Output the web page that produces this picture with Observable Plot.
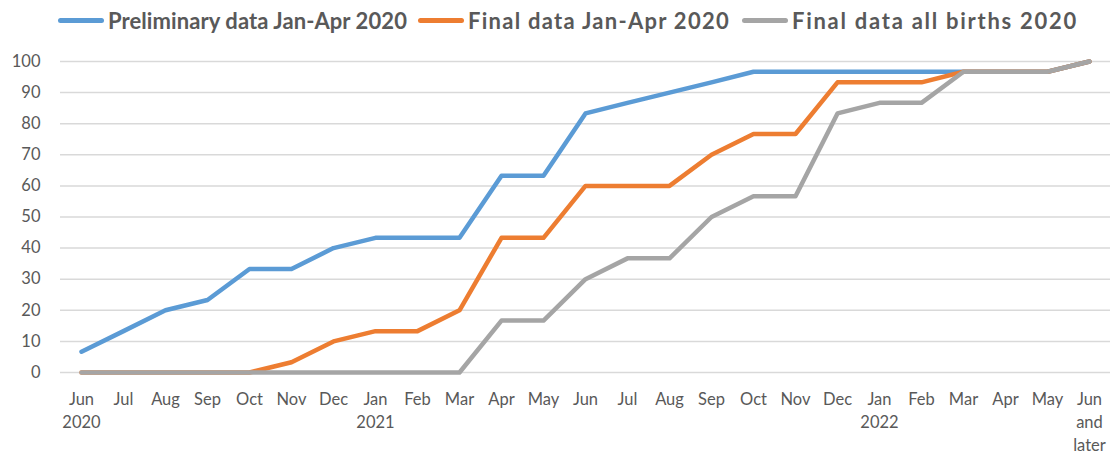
<!DOCTYPE html>
<html><head><meta charset="utf-8">
<script src="https://cdn.jsdelivr.net/npm/d3@7"></script>
<script src="https://cdn.jsdelivr.net/npm/@observablehq/plot@0.6"></script>
<style>
body{margin:0;background:#fff;font-family:Lato,"Open Sans",sans-serif;}
#legend{height:40px;position:relative;font-weight:bold;font-size:22px;color:#595959;}
.item{position:absolute;top:0;height:40px;display:flex;align-items:center;white-space:nowrap;}
.sw{width:46px;height:5px;border-radius:3px;margin-right:4px;}
</style></head>
<body>
<div id="legend"></div>
<div id="chart"></div>
<script>
const months = ["Jun 2020","Jul","Aug","Sep","Oct","Nov","Dec","Jan 2021","Feb","Mar","Apr","May","Jun","Jul ","Aug ","Sep ","Oct ","Nov ","Dec ","Jan 2022","Feb ","Mar ","Apr ","May ","Jun and later"];
const tickLabels = ["Jun\n2020","Jul","Aug","Sep","Oct","Nov","Dec","Jan\n2021","Feb","Mar","Apr","May","Jun","Jul","Aug","Sep","Oct","Nov","Dec","Jan\n2022","Feb","Mar","Apr","May","Jun\nand\nlater"];
const seriesNames = ["Preliminary data Jan-Apr 2020","Final data Jan-Apr 2020","Final data all births 2020"];
const seriesColors = ["#5b9bd5","#ed7d31","#a5a5a5"];
const preliminary = [6.7,13.3,20,23.3,33.3,33.3,40,43.3,43.3,43.3,63.3,63.3,83.3,86.7,90,93.3,96.7,96.7,96.7,96.7,96.7,96.7,96.7,96.7,100];
const finalJanApr = [0,0,0,0,0,3.3,10,13.3,13.3,20,43.3,43.3,60,60,60,70,76.7,76.7,93.3,93.3,93.3,96.7,96.7,96.7,100];
const finalAll = [0,0,0,0,0,0,0,0,0,0,16.7,16.7,30,36.7,36.7,50,56.7,56.7,83.3,86.7,86.7,96.7,96.7,96.7,100];
const yTicks = [0,10,20,30,40,50,60,70,80,90,100];

const allSeries = [preliminary, finalJanApr, finalAll];
const data = allSeries.flatMap((vals, s) => vals.map((v, i) => ({month: months[i], value: v, series: seriesNames[s]})));

const legendLefts = [58, 418, 742];
const legendTextWidths = [299, 262, 286];
const legend = document.getElementById("legend");
seriesNames.forEach((n, i) => {
  const d = document.createElement("div"); d.className = "item";
  d.style.left = legendLefts[i] + "px";
  d.innerHTML = `<div class="sw" style="background:${seriesColors[i]}"></div><span>${n}</span>`;
  legend.appendChild(d);
  const sp = d.querySelector("span");
  const w = sp.getBoundingClientRect().width;
  sp.style.letterSpacing = ((legendTextWidths[i] - w) / n.length) + "px";
});

const labelMap = new Map(months.map((m, i) => [m, tickLabels[i]]));
const chart = Plot.plot({
  width: 1114, height: 418,
  marginLeft: 60, marginRight: 4, marginTop: 21, marginBottom: 86,
  style: {fontFamily: "Lato, 'Open Sans', sans-serif", fontSize: "16px", color: "#595959", background: "#fff"},
  x: {type: "point", domain: months, padding: 0.5, label: null},
  y: {domain: [0, 100], ticks: yTicks, label: null},
  color: {domain: seriesNames, range: seriesColors},
  marks: [
    Plot.ruleY(yTicks, {stroke: "#d9d9d9", strokeWidth: 1.5}),
    Plot.axisY({ticks: yTicks, tickSize: 0, tickPadding: 20, label: null, fill: "#595959", fontSize: 16.5}),
    Plot.axisX({tickSize: 0, tickPadding: 16, label: null, tickFormat: d => labelMap.get(d), fill: "#595959", fontSize: 16.5, lineHeight: 1.4}),
    Plot.line(data, {x: "month", y: "value", stroke: "series", z: "series", strokeWidth: 4.5, strokeLinejoin: "round", strokeLinecap: "round"})
  ]
});
document.getElementById("chart").appendChild(chart);
</script>
</body></html>
